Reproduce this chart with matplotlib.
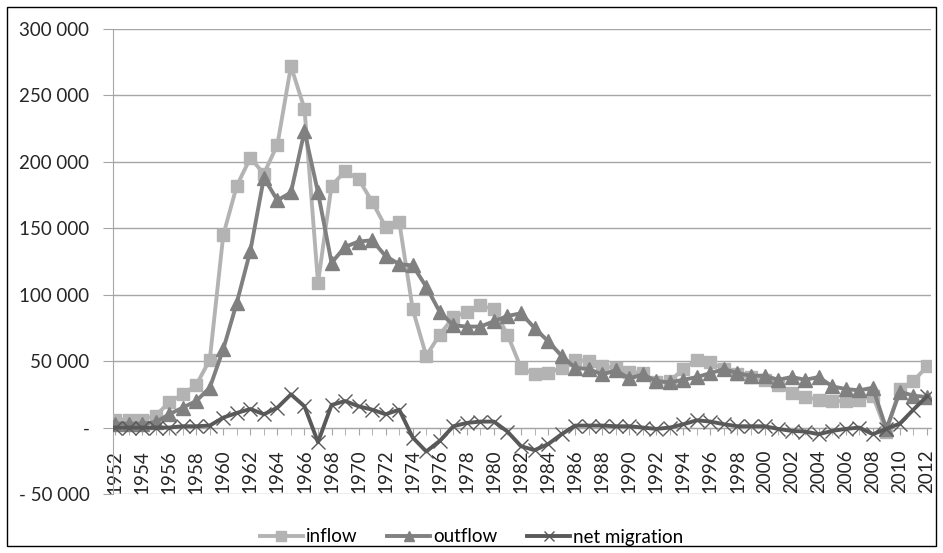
import matplotlib
matplotlib.use("Agg")
import matplotlib.pyplot as plt
from matplotlib.ticker import FuncFormatter, MultipleLocator
from matplotlib.patches import Rectangle

plt.rcParams['font.family'] = ['Lato', 'DejaVu Sans']

# migration data, 1952-2012
years = list(range(1952, 2013))
inflow = [6000, 6000, 6000, 9000, 19000, 25000, 32000, 51000,
          145000, 182000, 203000, 191000, 213000, 272000, 240000, 109000, 182000, 193000,
          187000, 170000, 151000, 155000, 89000, 54000, 70000, 83000, 87000, 92000,
          89000, 70000, 45000, 40000, 41000, 45000, 51000, 50000, 46000, 45000,
          42000, 41000, 34000, 35000, 44000, 51000, 49000, 44000, 40000, 38000,
          36000, 32000, 26000, 23000, 21000, 20000, 20000, 21000, 24000, -3000,
          29000, 35000, 46000]
outflow = [3000, 3000, 3000, 4000, 10000, 15000, 20000, 30000,
           59000, 94000, 133000, 188000, 171000, 177000, 223000, 177000, 124000, 136000,
           140000, 141000, 129000, 123000, 122000, 106000, 87000, 77000, 76000, 76000,
           80000, 84000, 86000, 75000, 65000, 54000, 45000, 44000, 40000, 43000,
           37000, 40000, 35000, 34000, 36000, 38000, 41000, 44000, 41000, 39000,
           39000, 36000, 38000, 36000, 38000, 31000, 29000, 28000, 30000, -1000,
           27000, 24000, 23000]
net = [0, 0, 0, 0, 0, 1000, 1000, 1500,
       7500, 11000, 14000, 10000, 15000, 25000, 16000, -11000, 17000, 20000,
       16000, 13500, 10000, 13500, -7500, -18000, -10000, 1000, 3500, 4500,
       4500, -3000, -14000, -17000, -12500, -5000, 1500, 1500, 1500, 1000,
       1000, 0, -1000, 0, 2500, 5500, 4500, 2500, 1000, 1000,
       1000, -1000, -2500, -3000, -5000, -2500, -1000, 0, -5000, -1000,
       3000, 13500, 23500]

c_in = '#b3b3b3'
c_out = '#808080'
c_net = '#595959'
grid_c = '#a6a6a6'

fig = plt.figure(figsize=(9.43, 5.53), dpi=100)
ax = fig.add_axes([113/943, 59/553, 818/943, 465/553])

ax.plot(years, inflow, color=c_in, lw=2.8, marker='s', ms=9, mec=c_in, mfc=c_in,
        label='inflow', zorder=3)
ax.plot(years, outflow, color=c_out, lw=2.8, marker='^', ms=10, mec=c_out, mfc=c_out,
        label='outflow', zorder=4)
ax.plot(years, net, color=c_net, lw=2.8, marker='x', ms=10, mew=1.0, mec=c_net,
        label='net migration', zorder=5)

ax.set_xlim(1951.85, 2012.3)
ax.set_ylim(-50000, 300000)
ax.yaxis.set_major_locator(MultipleLocator(50000))


def fmt(v, pos):
    if abs(v) < 1:
        return '-'
    s = '{:,.0f}'.format(abs(v)).replace(',', ' ')
    return '- ' + s if v < 0 else s


ax.yaxis.set_major_formatter(FuncFormatter(fmt))
ax.grid(axis='y', color=grid_c, lw=1.0, zorder=0)
ax.set_axisbelow(True)

for s in ['top', 'right']:
    ax.spines[s].set_visible(False)
ax.spines['left'].set_color(grid_c)
ax.spines['bottom'].set_position(('data', 0))
ax.spines['bottom'].set_color(grid_c)
ax.spines['bottom'].set_zorder(1)

ax.set_xticks(years[::2])
ax.set_xticks(years, minor=True)
ax.set_xticklabels([str(y) for y in years[::2]], rotation=90)
ax.tick_params(axis='x', which='both', length=5, color=grid_c, labelsize=13.5,
               pad=11, labelcolor='#262626')
ax.tick_params(axis='y', length=7, color=grid_c, labelsize=13.5, pad=10,
               labelcolor='#262626')

fig.legend(loc='center', bbox_to_anchor=(0.5, 16/553), ncol=3, frameon=False,
           fontsize=13.5, handlelength=2.3, columnspacing=1.6, handletextpad=0.15,
           markerscale=0.75)

fig.patches.append(Rectangle((7/943, 7/553), 929/943, 539/553, transform=fig.transFigure,
                             fill=False, edgecolor='black', lw=1.0))

fig.savefig('out.png', dpi=100)
